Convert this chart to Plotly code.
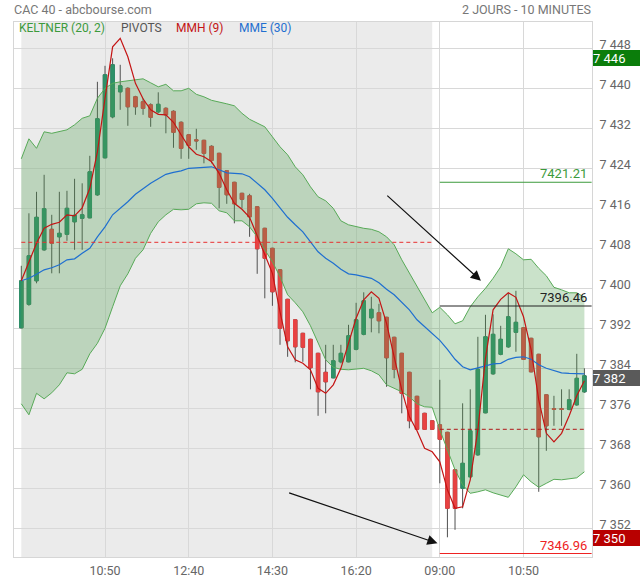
import plotly.graph_objects as go

# ---------------- data ----------------
day1_len = 55   # 09:00 .. 18:00 (10-minute candles)
day2_len = 20   # 09:00 .. 12:10

opens = [7392.1, 7396.8, 7401.5, 7407.7, 7411.8, 7410.3, 7410.8, 7413.3, 7414.0, 7414.1,
         7418.7, 7426.1, 7434.3, 7439.3, 7440.0, 7438.3, 7437.3, 7436.7, 7435.3, 7436.0,
         7435.4, 7433.2, 7430.7, 7429.7, 7429.6, 7428.4, 7427.0, 7423.5, 7421.2, 7419.0,
         7418.5, 7416.3, 7412.0, 7408.0, 7403.7, 7397.8, 7393.7, 7391.0, 7389.8, 7387.0,
         7383.2, 7382.1, 7385.3, 7385.3, 7387.8, 7390.8, 7394.1, 7395.1, 7394.2, 7390.2,
         7387.0, 7383.2, 7378.4, 7375.0, 7373.5,
         7372.7, 7371.2, 7363.7, 7360.0, 7362.3, 7366.7, 7375.1, 7382.9, 7386.8, 7388.3,
         7391.2, 7392.1, 7390.0, 7386.8, 7378.7, 7375.9, 7375.9, 7375.8, 7376.7, 7379.3]
highs = [7404.5, 7415.0, 7419.3, 7422.7, 7414.7, 7419.3, 7419.5, 7421.9, 7421.0, 7426.5,
         7441.3, 7444.5, 7446.0, 7444.7, 7440.2, 7438.5, 7438.0, 7437.0, 7439.2, 7436.2,
         7435.6, 7433.4, 7430.8, 7431.9, 7429.7, 7428.6, 7427.1, 7423.6, 7421.3, 7419.1,
         7418.9, 7416.4, 7412.1, 7408.1, 7403.8, 7397.9, 7393.8, 7391.1, 7389.9, 7387.1,
         7388.7, 7388.7, 7388.7, 7392.7, 7397.1, 7399.2, 7398.3, 7396.9, 7394.3, 7390.3,
         7387.1, 7383.3, 7378.5, 7375.1, 7373.6,
         7381.7, 7371.3, 7363.8, 7377.0, 7379.8, 7390.3, 7394.7, 7394.8, 7392.5, 7399.0,
         7399.5, 7392.2, 7390.1, 7386.9, 7378.8, 7378.5, 7379.8, 7379.8, 7386.9, 7384.0]
lows = [7392.0, 7396.5, 7401.0, 7407.5, 7403.0, 7403.0, 7409.5, 7407.7, 7407.7, 7414.0,
        7418.5, 7426.0, 7434.0, 7435.7, 7432.5, 7434.7, 7434.7, 7432.3, 7435.0, 7431.0,
        7428.1, 7425.9, 7425.9, 7427.7, 7425.0, 7425.0, 7416.0, 7416.9, 7413.0, 7416.0,
        7410.3, 7402.9, 7398.0, 7396.5, 7388.7, 7386.3, 7385.2, 7385.3, 7379.8, 7374.5,
        7375.0, 7382.0, 7385.0, 7385.2, 7387.6, 7390.6, 7391.2, 7391.0, 7380.3, 7382.0,
        7375.0, 7372.0, 7371.7, 7371.7, 7371.7,
        7361.0, 7350.2, 7351.7, 7356.0, 7362.0, 7366.5, 7375.0, 7382.7, 7386.6, 7388.1,
        7387.3, 7385.7, 7383.2, 7359.3, 7367.5, 7372.5, 7372.5, 7375.6, 7376.5, 7379.1]
closes = [7401.5, 7406.5, 7414.2, 7415.9, 7409.0, 7411.0, 7416.0, 7414.6, 7414.7, 7423.3,
          7433.9, 7442.7, 7444.7, 7440.5, 7436.3, 7436.3, 7436.0, 7434.2, 7436.8, 7434.7,
          7431.2, 7428.0, 7428.6, 7429.5, 7427.0, 7425.6, 7420.2, 7418.7, 7416.9, 7417.8,
          7414.3, 7407.9, 7406.0, 7399.3, 7392.0, 7389.5, 7388.3, 7388.2, 7384.1, 7379.3,
          7381.3, 7385.5, 7387.0, 7390.5, 7393.7, 7397.5, 7395.8, 7393.5, 7386.1, 7383.8,
          7379.0, 7373.5, 7371.8, 7371.8, 7371.8,
          7369.8, 7356.0, 7356.0, 7365.0, 7371.5, 7383.8, 7390.3, 7390.8, 7389.8, 7394.3,
          7393.2, 7385.8, 7383.3, 7370.3, 7372.5, 7375.8, 7375.8, 7377.7, 7382.0, 7382.5]

keltner_upper = [7425.9, 7429.9, 7428.0, 7431.3, 7431.0, 7431.3, 7431.7, 7432.7, 7434.0, 7434.5,
                 7438.0, 7440.0, 7441.0, 7441.3, 7441.5, 7441.7, 7441.9, 7441.1, 7440.3, 7440.8,
                 7439.5, 7439.5, 7440.0, 7438.8, 7438.3, 7437.6, 7437.3, 7436.9, 7436.5, 7435.0,
                 7433.8, 7433.0, 7432.3, 7430.3, 7428.3, 7426.7, 7424.3, 7422.7, 7420.3, 7418.3,
                 7417.5, 7416.0, 7413.5, 7412.7, 7412.3, 7412.0, 7411.8, 7411.3, 7410.3, 7408.7,
                 7405.7, 7403.0, 7400.3, 7397.7, 7395.1,
                 7396.2, 7394.7, 7392.9, 7393.5, 7396.3, 7398.3, 7400.0, 7402.0, 7404.3, 7407.9,
                 7406.9, 7405.7, 7405.8, 7404.0, 7402.5, 7400.2, 7399.7, 7399.1, 7399.1, 7398.2]
keltner_lower = [7376.9, 7374.7, 7379.0, 7377.9, 7379.1, 7380.7, 7383.1, 7382.9, 7383.8, 7386.9,
                 7389.0, 7392.0, 7396.3, 7400.5, 7402.9, 7406.0, 7407.7, 7411.0, 7413.3, 7414.7,
                 7415.8, 7415.7, 7415.8, 7416.9, 7417.1, 7417.0, 7415.5, 7415.1, 7413.5, 7413.5,
                 7412.3, 7410.3, 7407.7, 7405.3, 7402.3, 7398.7, 7397.1, 7395.3, 7392.5, 7389.0,
                 7385.7, 7384.2, 7383.8, 7383.7, 7383.8, 7384.0, 7383.5, 7382.7, 7380.7, 7380.0,
                 7379.3, 7378.3, 7376.9, 7376.3, 7376.2,
                 7371.7, 7367.7, 7363.7, 7360.7, 7359.0, 7359.3, 7359.7, 7359.1, 7358.7, 7358.2,
                 7360.3, 7362.7, 7361.3, 7360.2, 7361.0, 7361.8, 7361.7, 7361.9, 7362.1, 7363.3]
mme30 = [7401.5, 7402.0, 7402.8, 7403.7, 7404.1, 7404.7, 7405.7, 7405.9, 7407.0, 7408.0,
         7410.3, 7412.3, 7414.7, 7416.0, 7417.3, 7418.8, 7419.9, 7421.0, 7421.9, 7422.8,
         7423.2, 7423.5, 7424.0, 7424.1, 7424.3, 7424.3, 7423.7, 7423.1, 7423.0, 7422.9,
         7422.3, 7421.0, 7419.7, 7418.0, 7416.0, 7414.2, 7412.7, 7411.3, 7409.3, 7407.3,
         7406.0, 7405.0, 7403.8, 7402.9, 7402.7, 7402.3, 7402.0, 7401.1, 7399.8, 7398.7,
         7397.3, 7395.7, 7393.7, 7392.3, 7391.0,
         7389.6, 7387.8, 7385.8, 7384.3, 7383.7, 7384.1, 7384.5, 7384.9, 7385.0, 7385.8,
         7386.2, 7386.3, 7385.8, 7384.7, 7384.0, 7383.5, 7383.1, 7383.0, 7382.9, 7382.9]
mmh9 = [7401.5, 7405.3, 7409.0, 7412.0, 7412.8, 7413.2, 7414.7, 7414.5, 7416.1, 7420.0,
        7427.3, 7438.0, 7448.3, 7450.0, 7446.3, 7441.0, 7437.9, 7435.7, 7434.8, 7434.7,
        7433.2, 7430.7, 7428.3, 7426.8, 7426.3, 7425.3, 7423.0, 7419.7, 7417.0, 7415.8,
        7414.2, 7410.5, 7406.7, 7403.0, 7395.3, 7388.3, 7385.7, 7385.0, 7383.7, 7380.0,
        7379.0, 7380.7, 7384.0, 7389.0, 7394.0, 7397.7, 7399.3, 7398.0, 7393.0, 7386.3,
        7379.7, 7374.3, 7371.5, 7368.0, 7367.3,
        7365.3, 7359.7, 7356.0, 7356.3, 7361.7, 7371.7, 7386.0, 7395.7, 7397.8, 7399.1,
        7398.2, 7394.3, 7387.7, 7377.7, 7371.0, 7369.3, 7371.0, 7374.5, 7378.5, 7381.5]

pivot_day1 = 7409.2
pivot_day2 = 7371.8
day2_levels = [7421.21, 7396.46, 7346.96]
day2_level_colors = ["#3c9a3c", "#222222", "#ee2222"]

price_boxes = [7446, 7382, 7350]
price_box_colors = ["#0b7d0b", "#5a5a5a", "#b80000"]

y_ticks = [7352, 7360, 7368, 7376, 7384, 7392, 7400, 7408, 7416, 7424, 7432, 7440, 7448]
x_tick_every = 11

# arrows: (tail idx, tail value, head idx, head value)
arrows = [(47.9, 7418.8, 60.4, 7401.5),
          (35.0, 7359.2, 54.7, 7349.0)]

# ---------------- derived ----------------
n = day1_len + day2_len
xs = list(range(n))
labels = ([f"{9 + (i * 10) // 60:02d}:{(i * 10) % 60:02d}" for i in range(day1_len)] +
          [f"{9 + (i * 10) // 60:02d}:{(i * 10) % 60:02d}" for i in range(day2_len)])
tick_idx = [i for i in xs if i % x_tick_every == 0 and i > 0]
tick_txt = [labels[i] for i in tick_idx]
day2_start = day1_len
body_hi = [max(o, c) for o, c in zip(opens, closes)]
body_lo = [min(o, c) for o, c in zip(opens, closes)]

UP = "rgb(45,145,105)"
DOWN = "rgb(232,66,66)"
WICK = "#505050"

fig = go.Figure()

# wicks (full range)
fig.add_trace(go.Candlestick(
    x=xs, open=opens, high=highs, low=lows, close=closes,
    increasing=dict(line=dict(color=WICK, width=1), fillcolor=WICK),
    decreasing=dict(line=dict(color=WICK, width=1), fillcolor=WICK),
    whiskerwidth=0, hoverinfo="skip"))
# bodies
fig.add_trace(go.Candlestick(
    x=xs, open=opens, high=body_hi, low=body_lo, close=closes,
    increasing=dict(line=dict(color=UP, width=1), fillcolor=UP),
    decreasing=dict(line=dict(color=DOWN, width=1), fillcolor=DOWN),
    whiskerwidth=0, hoverinfo="skip"))

# Keltner channel (drawn over the candles, translucent)
fig.add_trace(go.Scatter(x=xs, y=keltner_upper, mode="lines",
                         line=dict(color="#58aa58", width=1), hoverinfo="skip"))
fig.add_trace(go.Scatter(x=xs, y=keltner_lower, mode="lines", fill="tonexty",
                         fillcolor="rgba(80,160,80,0.30)",
                         line=dict(color="#58aa58", width=1), hoverinfo="skip"))
fig.add_trace(go.Scatter(x=xs, y=mme30, mode="lines",
                         line=dict(color="#1f6fd0", width=1.2), hoverinfo="skip"))
fig.add_trace(go.Scatter(x=xs, y=mmh9, mode="lines",
                         line=dict(color="#c41414", width=1.2), hoverinfo="skip"))

shapes = [
    dict(type="rect", xref="x", yref="paper", x0=0, x1=day1_len - 1, y0=0, y1=1,
         fillcolor="#ebebeb", line=dict(width=0), layer="below"),
    dict(type="line", xref="x", yref="y", x0=0, x1=day1_len - 1, y0=pivot_day1, y1=pivot_day1,
         line=dict(color="#e83030", width=1, dash="4px,3px")),
    dict(type="line", xref="x", yref="y", x0=day2_start, x1=n - 0.7, y0=pivot_day2, y1=pivot_day2,
         line=dict(color="#b01818", width=1, dash="4px,3px")),
]
for v, c in zip(day2_levels, day2_level_colors):
    shapes.append(dict(type="line", xref="x", yref="y", x0=day2_start, x1=n - 0.05,
                       y0=v, y1=v, line=dict(color=c, width=1)))

annotations = [
    dict(text="CAC 40 - abcbourse.com", xref="paper", yref="paper", x=0, y=1,
         xanchor="left", yanchor="bottom", yshift=3, showarrow=False, xshift=-2,
         font=dict(size=12.5, color="#777")),
    dict(text="2 JOURS - 10 MINUTES", xref="paper", yref="paper", x=1, y=1,
         xanchor="right", yanchor="bottom", yshift=3, showarrow=False, xshift=1,
         font=dict(size=12.5, color="#777")),
]
legend_items = [("KELTNER (20, 2)", "#3c9a3c", 5), ("PIVOTS", "#555555", 106.7),
                ("MMH (9)", "#c41414", 162), ("MME (30)", "#1f6fd0", 224.7)]
for t, c, dx in legend_items:
    annotations.append(dict(text=t, xref="paper", yref="paper", x=0, y=1, xanchor="left",
                            yanchor="middle", xshift=dx - 2, yshift=-6, showarrow=False,
                            font=dict(size=12, color=c)))
for v, c in zip(day2_levels, day2_level_colors):
    annotations.append(dict(text=f"{v:.2f}", xref="paper", yref="y", x=1, y=v,
                            xanchor="right", yanchor="bottom", xshift=-3, yshift=-1,
                            showarrow=False, font=dict(size=13, color=c)))
for v, c in zip(price_boxes, price_box_colors):
    annotations.append(dict(text=f"{v // 1000} {v % 1000:03d}", xref="paper", yref="y",
                            x=1, y=v, xanchor="left", yanchor="middle", xshift=1,
                            showarrow=False, bgcolor=c, width=47, height=16, align="left",
                            valign="middle", borderpad=0, borderwidth=0,
                            font=dict(size=13, color="white")))
for tx, ty, hx, hy in arrows:
    annotations.append(dict(x=hx, y=hy, ax=tx, ay=ty, xref="x", yref="y", axref="x",
                            ayref="y", text="", showarrow=True, arrowhead=2, arrowsize=1.7,
                            arrowwidth=1.2, arrowcolor="#111"))

fig.update_layout(
    width=640, height=580, margin=dict(l=14, r=48, t=22, b=23, autoexpand=False),
    paper_bgcolor="white", plot_bgcolor="white", showlegend=False,
    font=dict(family="Roboto", size=12, color="#666"),
    shapes=shapes, annotations=annotations, boxgap=0.35,
    xaxis=dict(range=[-0.96, 75.0], tickvals=tick_idx, ticktext=tick_txt,
               showgrid=True, gridcolor="#d8d8d8", gridwidth=1, zeroline=False,
               showline=True, mirror=True, linecolor="#d6d6d6", ticks="",
               ticklabelstandoff=2, rangeslider=dict(visible=False), automargin=False,
               tickfont=dict(size=12.5, color="#666")),
    yaxis=dict(side="right", range=[7346.26, 7453.26], tickvals=y_ticks,
               ticktext=[f"{v // 1000} {v % 1000:03d}" for v in y_ticks],
               showgrid=True, gridcolor="#d8d8d8", gridwidth=1, zeroline=False,
               showline=True, mirror=True, linecolor="#d6d6d6", ticks="",
               ticklabelshift=-4, ticklabelstandoff=4, automargin=False,
               tickfont=dict(size=12.5, color="#666")),
)

# remove the default 8px page margin so the figure fills the window exactly
fig.write_html("out.html", config={"displayModeBar": False},
               post_script="document.body.style.margin='0';")
